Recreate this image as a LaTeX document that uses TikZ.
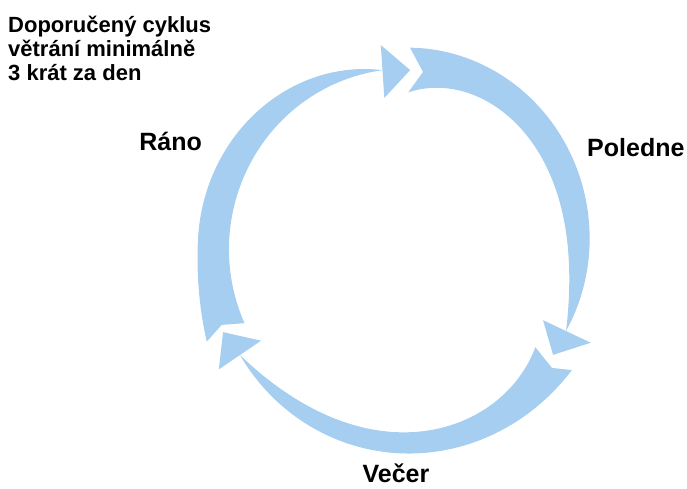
\documentclass[tikz,border=0pt]{standalone}
\usepackage{fontspec}
\setmainfont{Liberation Sans}
\definecolor{arrowblue}{RGB}{166,206,240}
\begin{document}
\begin{tikzpicture}[x=1pt,y=1pt,
  lbl/.style={font=\fontsize{25}{26}\selectfont\bfseries, inner sep=0pt, text=black},
  ttl/.style={font=\fontsize{22}{24}\selectfont\bfseries, inner sep=0pt, text=black},
  arr/.style={fill=arrowblue, draw=none},
  declare function={
    tA(\xx)=(85.4-\xx)/109.7;
    rAo(\xx)=1.0+0.13*tA(\xx)-0.16*tA(\xx)^2;
    rAi(\xx)=0.776+0.6595*tA(\xx)-1.3037*tA(\xx)^2+0.8382*tA(\xx)^3;
    tB(\xx)=(-32.9-\xx)/114.1;
    rBo(\xx)=1.089-0.2097*tB(\xx)+0.0562*tB(\xx)^2+0.01454*tB(\xx)^3;
    rBi(\xx)=0.868+0.3866*tB(\xx)-1.0097*tB(\xx)^2+0.7051*tB(\xx)^3;
    tC(\xx)=(205-\xx)/111;
    rCo(\xx)=1.0+0.1173*tC(\xx)-0.2398*tC(\xx)^2+0.01053*tC(\xx)^3+0.068*(max(0,1-tC(\xx)/0.25))^2;
    rCi(\xx)=0.853+0.035*tC(\xx)^3;
  }]
\useasboundingbox (0,0) rectangle (687,488);
% texts
\node[ttl, anchor=base west] (t1) at (8,455) {Doporučený cyklus};
\node[ttl, anchor=base west] (t2) at (8,431) {větrání minimálně};
\node[ttl, anchor=base west] (t3) at (8,407) {3 krát za den};
\node[lbl, anchor=base east] (rano) at (202,337) {Ráno};
\node[lbl, anchor=base west] (poledne) at (587,331) {Poledne};
\node[lbl, anchor=base] (vecer) at (396,6) {Večer};
% arrows
\begin{scope}[shift={(394.5,238)}, x=194pt, y=203pt]
% arrow A : top -> right
\fill[arr] plot[domain=85.4:-24.3, samples=70, variable=\t] (\t:{rAo(\t)})
  -- (-24.3:1.11) -- (-32.3:0.967) -- (-24.3:0.84) --
  plot[domain=-24.3:84.8, samples=70, variable=\t] (\t:{rAi(\t)})
  -- (80.5:0.889) -- cycle;
% arrow B : right -> bottom -> left
\fill[arr] plot[domain=-32.9:-147, samples=80, variable=\t] (\t:{rBo(\t)})
  -- (-147:1.08) -- (-155.4:0.972) -- (-147:0.82) --
  plot[domain=-147:-33.4, samples=80, variable=\t] (\t:{rBi(\t)})
  -- (-35.6:0.998) -- cycle;
% arrow C : left -> top
\fill[arr] plot[domain=205:94, samples=70, variable=\t] (\t:{rCo(\t)})
  -- (94:1.012) -- (84.8:0.89) -- (94:0.751) --
  plot[domain=94:205, samples=70, variable=\t] (\t:{rCi(\t)})
  -- (202.5:0.964) -- cycle;
\end{scope}
\end{tikzpicture}
\end{document}
